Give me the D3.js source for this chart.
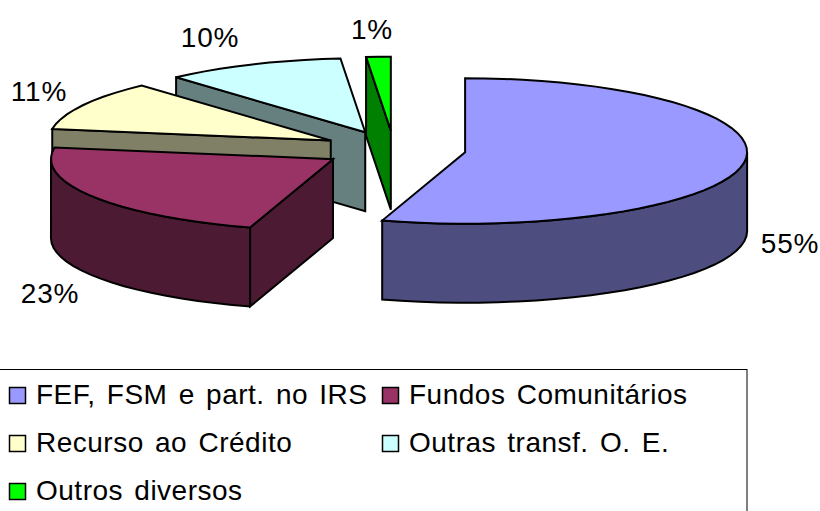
<!DOCTYPE html>
<html>
<head>
<meta charset="utf-8">
<script src="https://cdn.jsdelivr.net/npm/d3@7"></script>
<style>
  html, body { margin: 0; padding: 0; background: #fff; }
  svg { display: block; }
  text { font-family: "Liberation Sans", Arial, sans-serif; fill: #000; }
</style>
</head>
<body>
<div id="chart"></div>
<script>
// chart values (labels round them)
var categories = ["FEF, FSM e part. no IRS", "Fundos Comunitários", "Recurso ao Crédito", "Outras transf. O. E.", "Outros diversos"];
var values = [54.75, 22.75, 10.8, 10.3, 1.4];
var topColors = ["#9999ff", "#993366", "#ffffcc", "#ccffff", "#00ff00"];
var sideColors = ["#4d4d80", "#4d1a33", "#808066", "#668080", "#008000"];

var width = 820, height = 511;

// fake 3d pie layout
var cx = 394, cy = 149.5, rx = 282, ryBack = 74, ryFront = 71.5, depth = 79, explode = 0.255;
var labelAt = [[790, 243], [50, 293], [39, 91], [210, 37], [372, 29]];

var svg = d3.select("#chart").append("svg").attr("width", width).attr("height", height);

var pie = d3.pie().sort(null).value(function(d) { return d; })(values);

// unit circle -> screen, the near half is a bit flatter than the far half
var px = d3.scaleLinear().domain([-1, 1]).range([-rx, rx]);
var py = d3.scaleLinear().domain([-1, 0, 1]).range([ryFront, 0, -ryBack]);
var line = d3.line();

function centerOf(s) {
    var mid = (s.startAngle + s.endAngle) / 2;
    return [cx + px(Math.sin(mid)) * explode, cy + py(Math.cos(mid)) * explode];
}

function rim(c, a0, a1, dy) {
    var n = Math.max(1, Math.ceil((a1 - a0) / 0.07)), pts = [];
    for (var i = 0; i <= n; i++) {
        var a = a0 + (a1 - a0) * i / n;
        pts.push([c[0] + px(Math.sin(a)), c[1] + py(Math.cos(a)) + dy]);
    }
    return pts;
}

function sideFace(c, a) {
    var p = rim(c, a, a, 0)[0];
    return line([c, p, [p[0], p[1] + depth], [c[0], c[1] + depth]]) + "Z";
}

// back slices first so the near ones cover them
var order = pie.slice().reverse();
var g = svg.selectAll(".slice").data(order).enter().append("g").attr("class", "slice")
    .attr("stroke", "#000").attr("stroke-width", 2).attr("stroke-linejoin", "miter");

g.each(function(s) {
    var el = d3.select(this), c = centerOf(s), side = sideColors[s.index];

    // cut faces, only when they turn towards the viewer
    if (Math.sin(s.startAngle) < 0) el.append("path").attr("d", sideFace(c, s.startAngle)).attr("fill", side);
    if (Math.sin(s.endAngle) > 0) el.append("path").attr("d", sideFace(c, s.endAngle)).attr("fill", side);

    // outer wall, front half of the ellipse only
    var a0 = Math.max(s.startAngle, Math.PI / 2), a1 = Math.min(s.endAngle, Math.PI * 1.5);
    if (a1 > a0) {
        var upper = rim(c, a0, a1, 0), lower = rim(c, a0, a1, depth).reverse();
        el.append("path").attr("d", line(upper.concat(lower)) + "Z").attr("fill", side);
    }

    el.append("path")
        .attr("d", line([c].concat(rim(c, s.startAngle, s.endAngle, 0))) + "Z")
        .attr("fill", topColors[s.index]);
});

svg.selectAll(".pct").data(pie).enter().append("text").attr("class", "pct")
    .attr("x", function(d) { return labelAt[d.index][0]; })
    .attr("y", function(d) { return labelAt[d.index][1]; })
    .attr("text-anchor", "middle").attr("dominant-baseline", "central")
    .attr("font-size", 28).attr("letter-spacing", 0.8)
    .text(function(d) { return Math.round(d.value) + "%"; });

// legend box, runs off the bottom and left of the picture
svg.append("rect").attr("x", -0.5).attr("y", 369.5).attr("width", 747.5).attr("height", 160)
    .attr("fill", "#fff").attr("stroke", "#000").attr("stroke-width", 1);

var colX = d3.scalePoint().domain([0, 1]).range([9, 382]);
var rowY = d3.scalePoint().domain([0, 1, 2]).range([387, 483]);

var item = svg.selectAll(".item").data(categories).enter().append("g").attr("class", "item")
    .attr("transform", function(d, i) { return "translate(" + colX(i % 2) + "," + rowY(Math.floor(i / 2)) + ")"; });

item.append("rect").attr("x", 0.5).attr("y", 0.5).attr("width", 16).attr("height", 16)
    .attr("fill", function(d, i) { return topColors[i]; })
    .attr("stroke", "#000").attr("stroke-width", 1.5);

item.append("text").attr("x", 27).attr("y", 17).attr("font-size", 28)
    .attr("letter-spacing", 0.5).attr("word-spacing", 3)
    .text(function(d) { return d; });
</script>
</body>
</html>
